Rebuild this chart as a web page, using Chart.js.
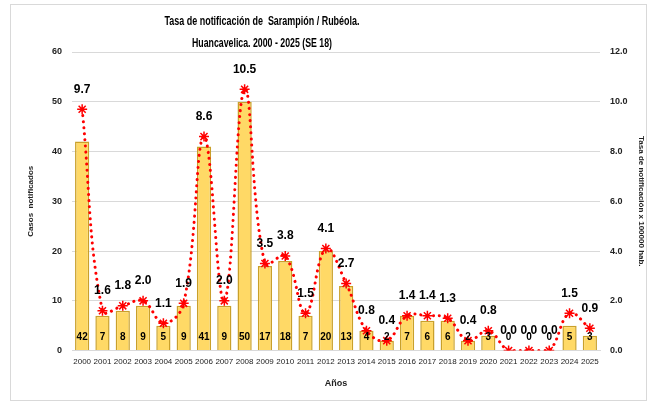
<!DOCTYPE html>
<html>
<head>
<meta charset="utf-8">
<script src="https://cdn.jsdelivr.net/npm/chart.js@4.4.1/dist/chart.umd.min.js"></script>
<style>
  body { margin: 0; background: #fff; }
  #wrap { position: relative; width: 652px; height: 403px; }
  #frame { position: absolute; left: 10px; top: 4px; width: 635px; height: 395px; border: 1px solid #d9d9d9; }
  canvas { position: absolute; left: 0; top: 0; }
</style>
</head>
<body>
<div id="wrap">
  <div id="frame"></div>
  <canvas id="chart" width="652" height="403"></canvas>
</div>
<script>
// datos de la grafica
const years = ['2000','2001','2002','2003','2004','2005','2006','2007','2008','2009','2010','2011','2012',
  '2013','2014','2015','2016','2017','2018','2019','2020','2021','2022','2023','2024','2025'];
const casos = [42, 7, 8, 9, 5, 9, 41, 9, 50, 17, 18, 7, 20, 13, 4, 2, 7, 6, 6, 2, 3, 0, 0, 0, 5, 3];
const tasa = [9.7, 1.6, 1.8, 2.0, 1.1, 1.9, 8.6, 2.0, 10.5, 3.5, 3.8, 1.5, 4.1, 2.7, 0.8, 0.4, 1.4, 1.4, 1.3, 0.4, 0.8, 0.0, 0.0, 0.0, 1.5, 0.9];
const titleLines = ['Tasa de notificación de  Sarampión / Rubéola.', 'Huancavelica. 2000 - 2025 (SE 18)'];

const FONT = "'Liberation Sans', Arial, sans-serif";

// titulo y etiquetas de valores
const labelsPlugin = {
  id: 'labels',
  afterDatasetsDraw(chart) {
    const ctx = chart.ctx;
    ctx.save();
    ctx.fillStyle = '#000';
    ctx.textAlign = 'center';
    ctx.textBaseline = 'middle';

    ctx.font = 'bold 12px ' + FONT;
    ctx.fillText(titleLines[0], 262, 22, 195);
    ctx.fillText(titleLines[1], 262, 44, 140);

    const bars = chart.getDatasetMeta(0).data;
    ctx.font = 'bold 10px ' + FONT;
    bars.forEach((b, i) => {
      ctx.fillText(String(casos[i]), b.x, chart.chartArea.bottom - 13);
    });

    const pts = chart.getDatasetMeta(1).data;
    ctx.font = 'bold 12px ' + FONT;
    pts.forEach((p, i) => {
      ctx.fillText(tasa[i].toFixed(1), p.x, p.y - 20);
    });
    ctx.restore();
  }
};

new Chart(document.getElementById('chart'), {
  data: {
    labels: years,
    datasets: [
      {
        type: 'bar',
        data: casos,
        yAxisID: 'y',
        backgroundColor: '#FFD966',
        borderColor: '#C9A02A',
        borderWidth: 1.5,
        barPercentage: 0.7,
        categoryPercentage: 1,
        order: 2
      },
      {
        type: 'line',
        data: tasa,
        yAxisID: 'y2',
        borderColor: '#FF0000',
        borderWidth: 3,
        borderDash: [0.1, 6],
        borderCapStyle: 'round',
        tension: 0.4,
        pointStyle: 'star',
        pointRadius: 5,
        pointBorderWidth: 1.5,
        pointBorderColor: '#FF0000',
        pointBackgroundColor: '#FF0000',
        order: 1
      }
    ]
  },
  options: {
    responsive: false,
    animation: false,
    layout: { padding: { top: 52, left: 22, right: 2, bottom: 10 } },
    plugins: { legend: { display: false }, tooltip: { enabled: false } },
    scales: {
      x: {
        grid: { display: false, drawTicks: false },
        border: { color: '#d9d9d9' },
        ticks: { color: '#222', font: { family: FONT, size: 8 }, padding: 6, maxRotation: 0, autoSkip: false },
        title: { display: true, text: 'Años', color: '#222', padding: { top: 6, bottom: 4 },
          font: { family: FONT, size: 9, weight: 'bold' } }
      },
      y: {
        position: 'left',
        min: 0, max: 60,
        ticks: { stepSize: 10, color: '#222', font: { family: FONT, size: 9, weight: 'bold' }, padding: 10 },
        grid: { color: '#d9d9d9', drawTicks: false },
        border: { display: false },
        title: { display: true, text: 'Casos  notificados', color: '#222', font: { family: FONT, size: 8, weight: 'bold' } },
        afterFit(s) { s.width = 50; }
      },
      y2: {
        position: 'right',
        min: 0, max: 12,
        ticks: { stepSize: 2, color: '#222', font: { family: FONT, size: 9, weight: 'bold' }, padding: 10,
          callback: v => v.toFixed(1) },
        grid: { display: false, drawTicks: false },
        border: { display: false },
        title: { display: true, text: 'Tasa de notificación x 100000 hab.', color: '#222', font: { family: FONT, size: 8, weight: 'bold' } },
        afterFit(s) { s.width = 50; }
      }
    }
  },
  plugins: [labelsPlugin]
});
</script>
</body>
</html>
